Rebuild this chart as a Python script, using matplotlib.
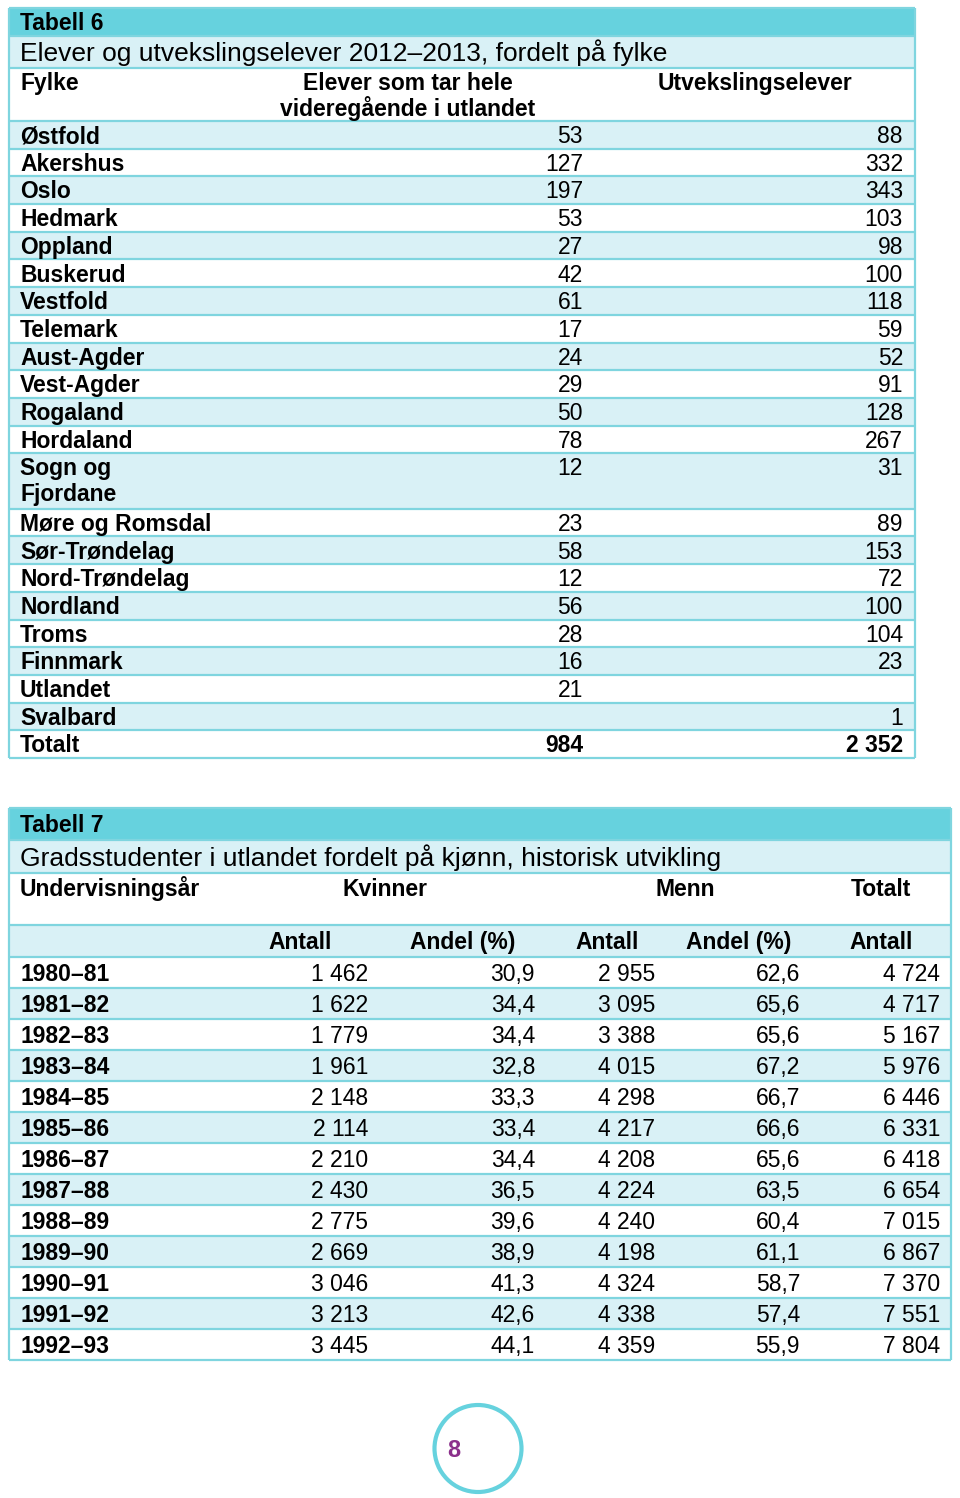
import matplotlib
matplotlib.use("Agg")
import matplotlib.pyplot as plt
from matplotlib.patches import Rectangle, Circle
from matplotlib import font_manager

# ---- data tabell 6
t6_nr = "Tabell 6"
t6_tittel = "Elever og utvekslingselever 2012–2013, fordelt på fylke"
t6_kol = ["Fylke", "Elever som tar hele", "videregående i utlandet", "Utvekslingselever"]
fylker = ["Østfold", "Akershus", "Oslo", "Hedmark", "Oppland", "Buskerud", "Vestfold",
          "Telemark", "Aust-Agder", "Vest-Agder", "Rogaland", "Hordaland", "Sogn og\nFjordane",
          "Møre og Romsdal", "Sør-Trøndelag", "Nord-Trøndelag", "Nordland", "Troms",
          "Finnmark", "Utlandet", "Svalbard", "Totalt"]
elever_hele = [53, 127, 197, 53, 27, 42, 61, 17, 24, 29, 50, 78, 12, 23, 58, 12, 56, 28, 16, 21, None, 984]
utveksling = [88, 332, 343, 103, 98, 100, 118, 59, 52, 91, 128, 267, 31, 89, 153, 72, 100, 104, 23, None, 1, 2352]

# ---- data tabell 7
t7_nr = "Tabell 7"
t7_tittel = "Gradsstudenter i utlandet fordelt på kjønn, historisk utvikling"
t7_kol = ["Undervisningsår", "Kvinner", "Menn", "Totalt"]
t7_underkol = ["Antall", "Andel (%)", "Antall", "Andel (%)", "Antall"]
aar = ["1980–81", "1981–82", "1982–83", "1983–84", "1984–85", "1985–86", "1986–87",
       "1987–88", "1988–89", "1989–90", "1990–91", "1991–92", "1992–93"]
kv_antall = [1462, 1622, 1779, 1961, 2148, 2114, 2210, 2430, 2775, 2669, 3046, 3213, 3445]
kv_andel = [30.9, 34.4, 34.4, 32.8, 33.3, 33.4, 34.4, 36.5, 39.6, 38.9, 41.3, 42.6, 44.1]
menn_antall = [2955, 3095, 3388, 4015, 4298, 4217, 4208, 4224, 4240, 4198, 4324, 4338, 4359]
menn_andel = [62.6, 65.6, 65.6, 67.2, 66.7, 66.6, 65.6, 63.5, 60.4, 61.1, 58.7, 57.4, 55.9]
totalt = [4724, 4717, 5167, 5976, 6446, 6331, 6418, 6654, 7015, 6867, 7370, 7551, 7804]
side = "8"

MORK = "#66d2de"   # header band
LYS = "#d9f1f6"    # light rows
LINJE = "#7fd5df"  # lines
FS_T = 19          # tittel

# brodteksten i originalen er litt smalere enn Arial/Helvetica
navn = {f.name for f in font_manager.fontManager.ttflist}
if "Liberation Sans Narrow" in navn:
    SMAL = ["Liberation Sans Narrow", "Liberation Sans", "DejaVu Sans"]
    FS = 18
else:
    SMAL = ["Liberation Sans", "DejaVu Sans"]
    FS = 16.5
VANLIG = ["Liberation Sans", "DejaVu Sans"]
plt.rcParams['font.family'] = VANLIG


def tall(v):
    if v is None:
        return ""
    return f"{v:,}".replace(",", " ")


def prosent(v):
    return f"{v:.1f}".replace(".", ",")


def band(ax, x0, x1, y0, y1, farge):
    ax.add_patch(Rectangle((x0, y0), x1 - x0, y1 - y0, facecolor=farge, edgecolor='none', zorder=1))


def tekst(ax, x, ymid, s, fs=None, bold=False, ha='left', farge='black', fam=None):
    if fs is None:
        fs = FS
    if fam is None:
        fam = SMAL
    # baseline = midten + halv versal-hoyde
    cap = fs * 100 / 72 * 0.716
    ax.text(x, ymid + cap / 2, s, fontsize=fs, fontweight='bold' if bold else 'normal',
            ha=ha, va='baseline', color=farge, zorder=3, family=fam)


fig = plt.figure(figsize=(9.6, 14.98), dpi=100)
ax = fig.add_axes([0, 0, 1, 1])
ax.set_xlim(0, 960)
ax.set_ylim(1498, 0)
ax.axis('off')

# ================= Tabell 6
x0, x1 = 9, 915
rh = 27.7
y = 8
linjer = [y]
band(ax, x0, x1, y, y + 28, MORK)
tekst(ax, 20, y + 14, t6_nr, bold=True)
y += 28
linjer.append(y)
band(ax, x0, x1, y, y + 32, LYS)
tekst(ax, 20, y + 16, t6_tittel, fs=FS_T, fam=VANLIG)
y += 32
linjer.append(y)
tekst(ax, 20, y + 14, t6_kol[0], bold=True)
tekst(ax, 408, y + 14, t6_kol[1], bold=True, ha='center')
tekst(ax, 408, y + 40, t6_kol[2], bold=True, ha='center')
tekst(ax, 755, y + 14, t6_kol[3], bold=True, ha='center')
y += 53
linjer.append(y)
for i, n in enumerate(fylker):
    deler = n.split("\n")
    h = rh * len(deler)
    if i % 2 == 0:
        band(ax, x0, x1, y, y + h, LYS)
    fet = n == "Totalt"
    for j, d in enumerate(deler):
        tekst(ax, 20, y + rh / 2 + j * 26, d, bold=True)
    tekst(ax, 583, y + rh / 2, tall(elever_hele[i]), bold=fet, ha='right')
    tekst(ax, 903, y + rh / 2, tall(utveksling[i]), bold=fet, ha='right')
    y += h
    linjer.append(y)
ax.hlines(linjer, x0, x1, color=LINJE, lw=1.6, zorder=2)
ax.vlines([x0, x1], linjer[0], linjer[-1], color=LINJE, lw=1.6, zorder=2)

# ================= Tabell 7
x0, x1 = 9, 951
rh = 31
y = 808
linjer = [y]
band(ax, x0, x1, y, y + 32, MORK)
tekst(ax, 20, y + 16, t7_nr, bold=True)
y += 32
linjer.append(y)
band(ax, x0, x1, y, y + 33, LYS)
tekst(ax, 20, y + 17, t7_tittel, fs=FS_T, fam=VANLIG)
y += 33
linjer.append(y)
tekst(ax, 20, y + 15, t7_kol[0], bold=True)
for xs, s in zip([385, 685, 881], t7_kol[1:]):
    tekst(ax, xs, y + 15, s, bold=True, ha='center')
y += 52
linjer.append(y)
band(ax, x0, x1, y, y + 32, LYS)
for xs, s in zip([300, 463, 607, 739, 881], t7_underkol):
    tekst(ax, xs, y + 16, s, bold=True, ha='center')
y += 32
linjer.append(y)
for i in range(len(aar)):
    if i % 2 == 1:
        band(ax, x0, x1, y, y + rh, LYS)
    ym = y + rh / 2
    tekst(ax, 20, ym, aar[i], bold=True)
    tekst(ax, 368, ym, tall(kv_antall[i]), ha='right')
    tekst(ax, 535, ym, prosent(kv_andel[i]), ha='right')
    tekst(ax, 655, ym, tall(menn_antall[i]), ha='right')
    tekst(ax, 800, ym, prosent(menn_andel[i]), ha='right')
    tekst(ax, 940, ym, tall(totalt[i]), ha='right')
    y += rh
    linjer.append(y)
ax.hlines(linjer, x0, x1, color=LINJE, lw=1.6, zorder=2)
ax.vlines([x0, x1], linjer[0], linjer[-1], color=LINJE, lw=1.6, zorder=2)

# sidetall
ax.add_patch(Circle((478, 1448.5), 43.5, facecolor='none', edgecolor=MORK, lw=3, zorder=2))
tekst(ax, 454, 1449, side, fs=17, bold=True, ha='center', farge="#8b2f8b", fam=VANLIG)

fig.savefig("out.png", dpi=100)
